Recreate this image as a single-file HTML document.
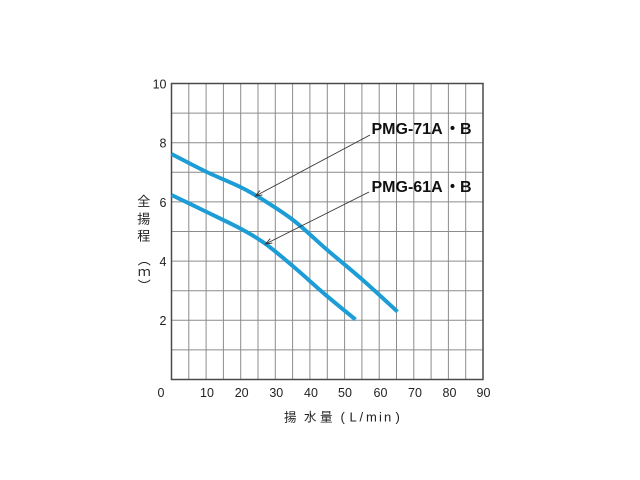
<!DOCTYPE html>
<html>
<head>
<meta charset="utf-8">
<style>
  html,body{margin:0;padding:0;background:#fff;}
  body{position:relative;width:640px;height:480px;overflow:hidden;}
  svg{display:block;position:absolute;left:0;top:0;}
  .t{font-family:"Liberation Sans","Noto Sans CJK JP",sans-serif;fill:#222;}
  .cjk{font-family:"Noto Sans CJK JP","Liberation Sans",sans-serif;fill:#222;}
  #ym{position:absolute;left:133.7px;top:253px;width:20px;line-height:20px;
      writing-mode:vertical-rl;text-orientation:upright;
      font-family:"Noto Sans CJK JP","Liberation Sans",sans-serif;font-size:13px;color:#222;white-space:nowrap;}
</style>
</head>
<body>
<svg width="640" height="480" viewBox="0 0 640 480" xmlns="http://www.w3.org/2000/svg">
  <rect x="0" y="0" width="640" height="480" fill="#fff"/>
  <!-- vertical grid -->
  <g stroke="#8c8c8c" stroke-width="1">
    <line x1="188.8" y1="83.5" x2="188.8" y2="379.5"/>
    <line x1="206.1" y1="83.5" x2="206.1" y2="379.5"/>
    <line x1="223.4" y1="83.5" x2="223.4" y2="379.5"/>
    <line x1="240.7" y1="83.5" x2="240.7" y2="379.5"/>
    <line x1="258.0" y1="83.5" x2="258.0" y2="379.5"/>
    <line x1="275.3" y1="83.5" x2="275.3" y2="379.5"/>
    <line x1="292.6" y1="83.5" x2="292.6" y2="379.5"/>
    <line x1="309.9" y1="83.5" x2="309.9" y2="379.5"/>
    <line x1="327.3" y1="83.5" x2="327.3" y2="379.5"/>
    <line x1="344.6" y1="83.5" x2="344.6" y2="379.5"/>
    <line x1="361.9" y1="83.5" x2="361.9" y2="379.5"/>
    <line x1="379.2" y1="83.5" x2="379.2" y2="379.5"/>
    <line x1="396.5" y1="83.5" x2="396.5" y2="379.5"/>
    <line x1="413.8" y1="83.5" x2="413.8" y2="379.5"/>
    <line x1="431.1" y1="83.5" x2="431.1" y2="379.5"/>
    <line x1="448.4" y1="83.5" x2="448.4" y2="379.5"/>
    <line x1="465.7" y1="83.5" x2="465.7" y2="379.5"/>
  </g>
  <!-- horizontal grid -->
  <g stroke="#8c8c8c" stroke-width="1">
    <line x1="171.5" y1="349.9" x2="483" y2="349.9"/>
    <line x1="171.5" y1="320.3" x2="483" y2="320.3"/>
    <line x1="171.5" y1="290.7" x2="483" y2="290.7"/>
    <line x1="171.5" y1="261.1" x2="483" y2="261.1"/>
    <line x1="171.5" y1="231.5" x2="483" y2="231.5"/>
    <line x1="171.5" y1="201.9" x2="483" y2="201.9"/>
    <line x1="171.5" y1="172.3" x2="483" y2="172.3"/>
    <line x1="171.5" y1="142.7" x2="483" y2="142.7"/>
    <line x1="171.5" y1="113.1" x2="483" y2="113.1"/>
  </g>
  <!-- frame -->
  <rect x="171.5" y="83.5" width="311.5" height="296" fill="none" stroke="#4a4a4a" stroke-width="1.5"/>

  <!-- curves -->
  <path fill="none" stroke="#1d9dd6" stroke-width="4" stroke-linejoin="round"
    d="M171.5,154 C177.2,156.9 194.2,166.0 205.7,171.5
       C217.2,177.0 231.6,182.8 240.3,187
       C249.0,191.2 250.5,192.5 257.7,196.5
       C266.5,202.0 281.5,211.2 293,220
       C304.5,228.8 315.0,239.4 326.7,249.5
       C338.4,259.6 351.5,270.1 363.3,280.5
       C375.1,290.9 391.8,306.5 397.5,311.7"/>
  <path fill="none" stroke="#1d9dd6" stroke-width="4" stroke-linejoin="round"
    d="M171.5,195 C177.2,197.75 194.2,205.9 205.7,211.5
       C217.2,217.1 230.4,223.2 240.3,228.5
       C250.2,233.8 256.2,237.2 265,243.5
       C273.8,249.8 283.0,257.8 293.3,266.5
       C303.6,275.2 316.3,287.0 326.7,295.8
       C337.1,304.6 350.7,315.6 355.5,319.5"/>

  <!-- leader lines -->
  <g stroke="#333" stroke-width="0.9" fill="none">
    <line x1="255.5" y1="196" x2="370" y2="135"/>
    <polyline points="262.4,194.9 255.5,196 260.0,190.5"/>
    <line x1="265.5" y1="244" x2="369" y2="192"/>
    <polyline points="272.4,243.1 265.5,244 270.2,238.7"/>
  </g>

  <!-- series labels -->
  <g style="font-family:'Liberation Sans','Noto Sans CJK JP',sans-serif;font-weight:bold;font-size:16px;fill:#111;">
    <text x="371.5" y="134">PMG-71A</text>
    <text x="460" y="134">B</text>
    <text x="371.5" y="192">PMG-61A</text>
    <text x="460" y="192">B</text>
  </g>
  <g class="cjk" style="font-size:16px;font-weight:bold;fill:#111;" text-anchor="middle">
    <text x="452.5" y="134">・</text>
    <text x="452.5" y="192">・</text>
  </g>

  <!-- y tick labels -->
  <g class="t" style="font-size:12.5px" text-anchor="end">
    <text x="166.5" y="88.5">10</text>
    <text x="166.5" y="147.5">8</text>
    <text x="166.5" y="206.8">6</text>
    <text x="166.5" y="266">4</text>
    <text x="166.5" y="325.2">2</text>
  </g>
  <!-- x tick labels -->
  <g class="t" style="font-size:12.5px" text-anchor="middle">
    <text x="161" y="397">0</text>
    <text x="207" y="397">10</text>
    <text x="241.7" y="397">20</text>
    <text x="276.3" y="397">30</text>
    <text x="311" y="397">40</text>
    <text x="345" y="397">50</text>
    <text x="380.5" y="397">60</text>
    <text x="415" y="397">70</text>
    <text x="449.5" y="397">80</text>
    <text x="483.5" y="397">90</text>
  </g>

  <!-- y axis title -->
  <g class="cjk" style="font-size:13px" text-anchor="middle">
    <text x="143.7" y="206">全</text>
    <text x="143.7" y="223.5">揚</text>
    <text x="143.7" y="240.5">程</text>
  </g>

  <!-- x axis title -->
  <g class="cjk" style="font-size:12.5px">
    <text x="284" y="421.5">揚</text>
    <text x="304" y="421.5">水</text>
    <text x="320" y="421.5">量</text>
  </g>
  <text class="t" style="font-size:13px" x="340.5 349.5 359.5 366 379 384 395.5" y="421.5">(L/min)</text>
</svg>
<div id="ym">︵ｍ︶</div>
</body>
</html>
